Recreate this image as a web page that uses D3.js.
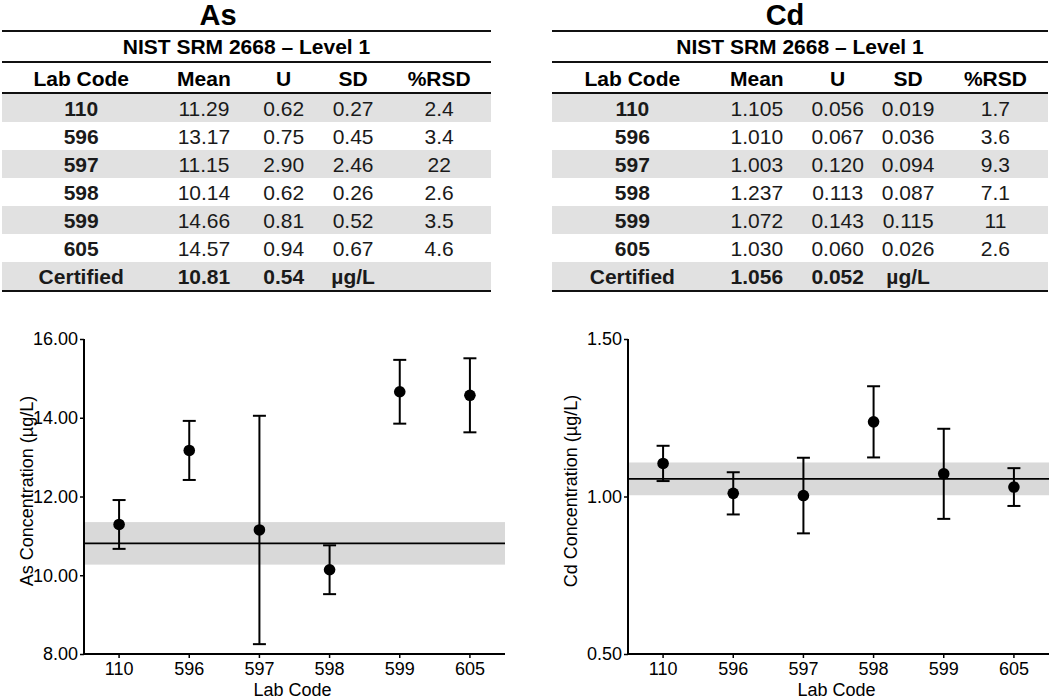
<!DOCTYPE html>
<html>
<head>
<meta charset="utf-8">
<script src="https://cdn.jsdelivr.net/npm/d3@7"></script>
<style>
  html, body { margin: 0; padding: 0; background: #fff; }
  svg { display: block; font-family: "Liberation Sans", Arial, sans-serif; }
</style>
</head>
<body>
<svg id="chart" width="1050" height="699"></svg>
<script>
// ---------------- DATA ----------------
const labCodes = ["110", "596", "597", "598", "599", "605"];
const tableHeaders = ["Lab Code", "Mean", "U", "SD", "%RSD"];
const tableSubtitle = "NIST SRM 2668 \u2013 Level 1";
const unitLabel = "\u00b5g/L";

const asMean = [11.29, 13.17, 11.15, 10.14, 14.66, 14.57];
const asU    = [0.62, 0.75, 2.90, 0.62, 0.81, 0.94];
const asSD   = [0.27, 0.45, 2.46, 0.26, 0.52, 0.67];
const asRSD  = ["2.4", "3.4", "22", "2.6", "3.5", "4.6"];
const asCertified = 10.81;
const asCertU = 0.54;
const asTicks = [8, 10, 12, 14, 16];

const cdMean = [1.105, 1.010, 1.003, 1.237, 1.072, 1.030];
const cdU    = [0.056, 0.067, 0.120, 0.113, 0.143, 0.060];
const cdSD   = [0.019, 0.036, 0.094, 0.087, 0.115, 0.026];
const cdRSD  = ["1.7", "3.6", "9.3", "7.1", "11", "2.6"];
const cdCertified = 1.056;
const cdCertU = 0.052;
const cdTicks = [0.5, 1.0, 1.5];

// ---------------- LAYOUT ----------------
const svg = d3.select("#chart");
const colFrac = [0.162, 0.413, 0.576, 0.718, 0.894];
const rowH = 28;

function drawPanel(p) {
  const g = svg.append("g");
  // ---- Title ----
  g.append("text")
    .attr("x", p.titleX).attr("y", 25)
    .attr("text-anchor", "middle")
    .attr("font-size", 29).attr("font-weight", "bold")
    .text(p.name);

  const tl = p.tableLeft, tr = p.tableRight, tw = tr - tl;
  const cx = colFrac.map(f => tl + f * tw);

  // ---- Shaded rows ----
  const rowsTop = 94;
  const nRows = labCodes.length + 1;
  for (let i = 0; i < nRows; i++) {
    if (i % 2 === 0) {
      g.append("rect")
        .attr("x", tl).attr("y", rowsTop + i * rowH)
        .attr("width", tw).attr("height", rowH)
        .attr("fill", "#e1e1e1");
    }
  }
  // ---- Rules ----
  const rule = (y, w) => g.append("line")
    .attr("x1", tl).attr("x2", tr).attr("y1", y).attr("y2", y)
    .attr("stroke", "#111").attr("stroke-width", w);
  rule(31, 2);
  rule(62, 2);
  rule(93, 2);
  rule(rowsTop + nRows * rowH + 1, 2);

  // ---- Subtitle ----
  g.append("text")
    .attr("x", (tl + tr) / 2).attr("y", 54)
    .attr("text-anchor", "middle")
    .attr("font-size", 21).attr("font-weight", "bold")
    .text(tableSubtitle);

  // ---- Header ----
  tableHeaders.forEach((h, j) => {
    g.append("text")
      .attr("x", cx[j]).attr("y", 86)
      .attr("text-anchor", "middle")
      .attr("font-size", 21).attr("font-weight", "bold")
      .text(h);
  });

  // ---- Body ----
  const fmt = d3.format("." + p.decimals + "f");
  labCodes.forEach((code, i) => {
    const y = 116 + i * rowH;
    const cells = [code, fmt(p.mean[i]), fmt(p.u[i]), fmt(p.sd[i]), p.rsd[i]];
    cells.forEach((c, j) => {
      g.append("text")
        .attr("x", cx[j]).attr("y", y)
        .attr("text-anchor", "middle")
        .attr("font-size", 21)
        .attr("font-weight", j === 0 ? "bold" : "normal")
        .attr("fill", "#1a1a1a")
        .text(c);
    });
  });
  const certY = 116 + labCodes.length * rowH;
  ["Certified", fmt(p.cert), fmt(p.certU), unitLabel].forEach((c, j) => {
    g.append("text")
      .attr("x", cx[j]).attr("y", certY)
      .attr("text-anchor", "middle")
      .attr("font-size", 21).attr("font-weight", "bold")
      .attr("fill", "#1a1a1a")
      .text(c);
  });

  // ---- Chart ----
  const x = d3.scaleBand().domain(labCodes).range([p.plotLeft, p.plotRight]).padding(0);
  const y = d3.scaleLinear().domain(p.yDomain).range([654, 339]);

  // band for certified ± U
  g.append("rect")
    .attr("x", p.plotLeft).attr("width", p.plotRight - p.plotLeft)
    .attr("y", y(p.cert + p.certU))
    .attr("height", y(p.cert - p.certU) - y(p.cert + p.certU))
    .attr("fill", "#d9d9d9");
  g.append("line")
    .attr("x1", p.plotLeft).attr("x2", p.plotRight)
    .attr("y1", y(p.cert)).attr("y2", y(p.cert))
    .attr("stroke", "#000").attr("stroke-width", 1.6);

  // axes
  const yAxis = d3.axisLeft(y).tickValues(p.ticks).tickFormat(d3.format(".2f")).tickSize(4).tickPadding(2);
  const ya = g.append("g").attr("transform", `translate(${p.plotLeft},0)`).call(yAxis);
  const xAxis = d3.axisBottom(x).tickSize(4).tickPadding(5);
  const xa = g.append("g").attr("transform", `translate(0,654)`).call(xAxis);
  [ya, xa].forEach(a => {
    a.select(".domain").attr("stroke", "#000").attr("stroke-width", 2);
    a.selectAll(".tick line").attr("stroke", "#000").attr("stroke-width", 1.5);
    a.selectAll(".tick text").attr("font-size", 18).attr("fill", "#000")
      .attr("font-family", "Liberation Sans, Arial, sans-serif");
  });
  ya.select(".domain").attr("d", `M0,${y(p.yDomain[1])}V${y(p.yDomain[0])}`);
  xa.select(".domain").attr("d", `M${p.plotLeft},0H${p.plotRight}`);
  xa.selectAll(".tick text").attr("y", 21).attr("dy", 0);

  // error bars
  const cap = 6.5;
  labCodes.forEach((code, i) => {
    const cxp = x(code) + x.bandwidth() / 2;
    const lo = y(p.mean[i] - p.u[i]), hi = y(p.mean[i] + p.u[i]);
    g.append("line").attr("x1", cxp).attr("x2", cxp).attr("y1", lo).attr("y2", hi)
      .attr("stroke", "#000").attr("stroke-width", 2);
    [lo, hi].forEach(yy => g.append("line")
      .attr("x1", cxp - cap).attr("x2", cxp + cap).attr("y1", yy).attr("y2", yy)
      .attr("stroke", "#000").attr("stroke-width", 2));
    g.append("circle").attr("cx", cxp).attr("cy", y(p.mean[i])).attr("r", 5.8).attr("fill", "#000");
  });

  // axis titles
  g.append("text")
    .attr("x", (p.plotLeft + p.plotRight) / 2 - 2).attr("y", 696)
    .attr("text-anchor", "middle").attr("font-size", 18)
    .text("Lab Code");
  g.append("text")
    .attr("transform", `translate(${p.yLabelX},491) rotate(-90)`)
    .attr("text-anchor", "middle").attr("font-size", 18)
    .text(p.name + " Concentration (" + unitLabel + ")");
}

drawPanel({
  name: "As", titleX: 218, tableLeft: 2, tableRight: 491,
  mean: asMean, u: asU, sd: asSD, rsd: asRSD, cert: asCertified, certU: asCertU,
  decimals: 2, yDomain: [8, 16], ticks: asTicks,
  plotLeft: 84, plotRight: 505, yLabelX: 33
});
drawPanel({
  name: "Cd", titleX: 785, tableLeft: 552, tableRight: 1048,
  mean: cdMean, u: cdU, sd: cdSD, rsd: cdRSD, cert: cdCertified, certU: cdCertU,
  decimals: 3, yDomain: [0.5, 1.5], ticks: cdTicks,
  plotLeft: 628, plotRight: 1049, yLabelX: 577
});
</script>
</body>
</html>
